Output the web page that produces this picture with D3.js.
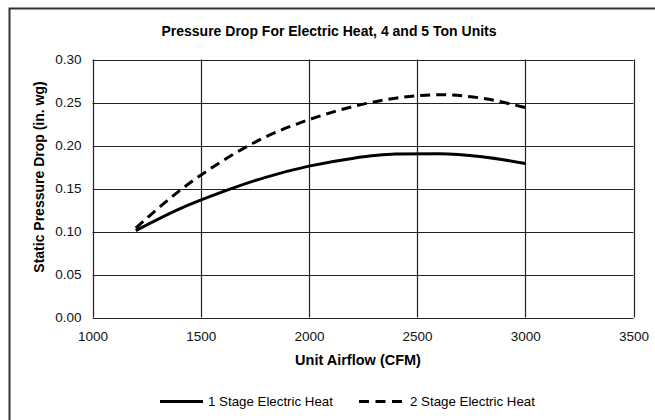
<!DOCTYPE html>
<html>
<head>
<meta charset="utf-8">
<script src="https://cdn.jsdelivr.net/npm/d3@7"></script>
<style>
  body { margin: 0; background: #fff; }
  svg { display: block; font-family: "Liberation Sans", Arial, sans-serif; }
</style>
</head>
<body>
<svg id="chart" width="655" height="420"></svg>
<script>
// airflow points (CFM)
var airflow = [1200, 1400, 1600, 1800, 2000, 2200, 2400, 2600, 2800, 3000];
// static pressure drop (in. wg)
var stage1 = [0.101, 0.126, 0.146, 0.163, 0.176, 0.185, 0.190, 0.1905, 0.187, 0.179];
var stage2 = [0.104, 0.147, 0.182, 0.210, 0.230, 0.245, 0.255, 0.259, 0.255, 0.244];
var seriesNames = ["1 Stage Electric Heat", "2 Stage Electric Heat"];
var xTicks = [1000, 1500, 2000, 2500, 3000, 3500];
var yTicks = [0, 0.05, 0.10, 0.15, 0.20, 0.25, 0.30];

var svg = d3.select("#chart");

// outer frame, only left and top are inside the picture
svg.append("rect")
  .attr("x", 9.5).attr("y", 8.5)
  .attr("width", 660).attr("height", 430)
  .attr("fill", "none").attr("stroke", "#333").attr("stroke-width", 2);

var plotL = 92.5, plotR = 633.5, plotT = 59.5, plotB = 317.5;
var x = d3.scaleLinear().domain([1000, 3500]).range([plotL, plotR]);
var y = d3.scaleLinear().domain([0, 0.30]).range([plotB, plotT]);

// grid
svg.append("g").selectAll("line").data(xTicks).enter().append("line")
  .attr("x1", function (d) { return Math.round(x(d)) + 0.5; })
  .attr("x2", function (d) { return Math.round(x(d)) + 0.5; })
  .attr("y1", plotT).attr("y2", plotB)
  .attr("stroke", "#222").attr("stroke-width", 1.2);
svg.append("g").selectAll("line").data(yTicks).enter().append("line")
  .attr("y1", function (d) { return Math.round(y(d)) + 0.5; })
  .attr("y2", function (d) { return Math.round(y(d)) + 0.5; })
  .attr("x1", plotL).attr("x2", plotR)
  .attr("stroke", "#222").attr("stroke-width", 1.2);

// axes (labels only, lines come from the grid)
var xAxis = svg.append("g")
  .attr("transform", "translate(0," + plotB + ")")
  .call(d3.axisBottom(x).tickValues(xTicks).tickFormat(d3.format("d")).tickSize(0).tickPadding(14));
var yAxis = svg.append("g")
  .attr("transform", "translate(" + plotL + ",0)")
  .call(d3.axisLeft(y).tickValues(yTicks).tickFormat(d3.format(".2f")).tickSize(0).tickPadding(11));
[xAxis, yAxis].forEach(function (a) {
  a.attr("font-family", "Liberation Sans, Arial, sans-serif").attr("font-size", 13.5);
  a.select(".domain").remove();
  a.selectAll("text").attr("fill", "#111");
});

// curves
var line = d3.line()
  .x(function (d) { return x(d[0]); })
  .y(function (d) { return y(d[1]); })
  .curve(d3.curveMonotoneX);

svg.append("path")
  .datum(d3.zip(airflow, stage1))
  .attr("d", line)
  .attr("fill", "none").attr("stroke", "#000").attr("stroke-width", 3);
svg.append("path")
  .datum(d3.zip(airflow, stage2))
  .attr("d", line)
  .attr("fill", "none").attr("stroke", "#000").attr("stroke-width", 3)
  .attr("stroke-dasharray", "10,6");

// titles
svg.append("text")
  .attr("x", 329).attr("y", 35.5)
  .attr("text-anchor", "middle")
  .style("font-size", "14px").style("font-weight", "bold")
  .text("Pressure Drop For Electric Heat, 4 and 5 Ton Units");
svg.append("text")
  .attr("x", 358).attr("y", 365)
  .attr("text-anchor", "middle")
  .style("font-size", "14.5px").style("font-weight", "bold")
  .text("Unit Airflow (CFM)");
svg.append("text")
  .attr("transform", "translate(43.5,177) rotate(-90)")
  .attr("text-anchor", "middle")
  .style("font-size", "14px").style("font-weight", "bold")
  .text("Static Pressure Drop (in. wg)");

// legend
var legend = svg.append("g").selectAll("g")
  .data(seriesNames)
  .enter().append("g")
  .attr("transform", function (d, i) { return "translate(" + (160 + i * 199) + ",401.5)"; });
legend.append("line")
  .attr("x1", 0).attr("x2", 43)
  .attr("stroke", "#000").attr("stroke-width", 3)
  .attr("stroke-dasharray", function (d, i) { return i === 1 ? "10,6.5" : null; });
legend.append("text")
  .attr("x", function (d, i) { return i === 1 ? 51 : 48; }).attr("y", 4.8)
  .style("font-size", "13.3px")
  .text(function (d) { return d; });
</script>
</body>
</html>
